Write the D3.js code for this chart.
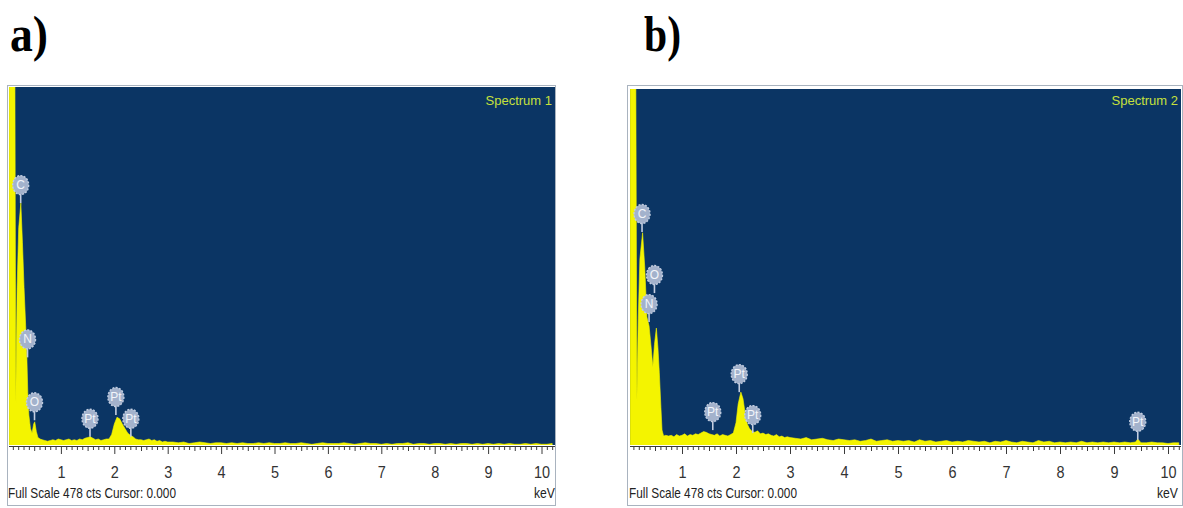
<!DOCTYPE html>
<html><head><meta charset="utf-8">
<script src="https://cdn.jsdelivr.net/npm/d3@7"></script>
<style>body{margin:0;background:#fff;} svg{display:block;}</style>
</head><body>
<svg id="c" width="1183" height="508"></svg>
<script>
// ---------- DATA ----------
const fullScale = 478;
const tickLabels = [1,2,3,4,5,6,7,8,9,10];

const energyA = [0.03,0.135,0.155,0.18,0.21,0.25,0.28,0.31,0.34,0.36,0.38,0.40,0.43,0.46,0.49,0.51,0.54,0.57,0.61,
 0.65,0.70,0.75,0.80,0.85,0.90,0.95,1.00,1.05,1.10,1.15,1.20,1.25,1.30,1.35,1.40,1.45,1.50,1.55,1.60,1.65,1.70,1.75,1.80,1.85,
 1.90,1.95,2.00,2.05,2.10,2.15,2.20,2.25,2.30,2.35,2.40,2.45,
 2.50,2.55,2.60,2.65,2.70,2.75,2.80,2.85,2.90,2.95,3.00,
 3.1,3.2,3.3,3.4,3.5,3.6,3.7,3.8,3.9,4.0,4.1,4.2,4.3,4.4,4.5,4.6,4.7,4.8,4.9,5.0,
 5.1,5.2,5.3,5.4,5.5,5.6,5.7,5.8,5.9,6.0,6.1,6.2,6.3,6.4,6.5,6.6,6.7,6.8,6.9,7.0,
 7.1,7.2,7.3,7.4,7.5,7.6,7.7,7.8,7.9,8.0,8.1,8.2,8.3,8.4,8.5,8.6,8.7,8.8,8.9,9.0,
 9.1,9.2,9.3,9.4,9.5,9.6,9.7,9.8,9.9,10.0,10.1,10.2];
const countsA = [600,600,56,210,290,323,270,210,160,125,70,40,22,16,28,31,18,10,8,
 7,6,5,6,7,6,8,7,6,7,8,6,7,6,8,7,9,10,11,9,7,8,6,7,8,
 8,14,28,37,35,28,22,16,13,11,8,7,
 7,6,7,8,6,7,5,6,4,5,4,
 4,3,4,2,3,4,3,2,3,3, 2,3,2,3,2,2,3,2,3,2,
 2,3,2,2,3,2,1,2,3,2, 2,2,3,2,1,2,3,2,2,1,
 2,1,2,2,3,1,2,2,1,2, 2,1,2,1,2,2,1,2,1,2,
 1,2,1,2,1,1,2,1,2,1,1,2];

const energyB = [0.04,0.14,0.165,0.19,0.22,0.27,0.31,0.35,0.39,0.43,0.46,0.49,0.525,0.555,0.58,0.61,0.63,0.66,0.70,
 0.75,0.80,0.85,0.90,0.95,1.00,1.05,1.10,1.15,1.20,1.25,1.30,1.35,1.40,1.45,1.50,1.55,1.60,1.65,1.70,1.75,1.80,1.85,1.90,
 1.95,2.00,2.04,2.09,2.13,2.17,2.21,2.25,2.30,2.35,2.40,2.45,2.50,
 2.55,2.60,2.65,2.70,2.75,2.80,2.85,2.90,2.95,3.00,
 3.1,3.2,3.3,3.4,3.5,3.6,3.7,3.8,3.9,4.0,4.1,4.2,4.3,4.4,4.5,4.6,4.7,4.8,4.9,5.0,
 5.1,5.2,5.3,5.4,5.5,5.6,5.7,5.8,5.9,6.0,6.1,6.2,6.3,6.4,6.5,6.6,6.7,6.8,6.9,7.0,
 7.1,7.2,7.3,7.4,7.5,7.6,7.7,7.8,7.9,8.0,8.1,8.2,8.3,8.4,8.5,8.6,8.7,8.8,8.9,9.0,
 9.1,9.2,9.3,9.4,9.44,9.5,9.6,9.7,9.8,9.9,10.0,10.1,10.2];
const countsB = [600,600,60,170,250,285,239,172,160,130,105,135,157,130,97,50,20,12,13,
 12,13,11,14,12,13,15,12,14,13,15,14,16,18,17,15,14,13,15,12,14,13,12,14,
 16,30,55,71,62,42,28,22,18,17,19,15,16,
 14,15,13,12,14,11,12,10,11,10,
 9,8,10,7,8,9,7,6,8,7, 6,7,5,6,8,5,6,7,5,6,
 5,6,4,7,5,6,4,5,6,4, 5,4,6,5,4,5,3,5,4,6,
 4,3,5,4,3,6,4,5,3,4, 3,4,3,5,3,4,3,4,3,4,
 3,4,3,4,8,3,3,4,3,3,2,3,3];

const labelTextA   = ["C","N","O","Pt","Pt","Pt"];
const labelEnergyA = [0.247,0.375,0.506,1.545,2.03,2.31];
const labelCountsA = [323,117,33,11,40,11];

const labelTextB   = ["C","N","O","Pt","Pt","Pt","Pt"];
const labelEnergyB = [0.26,0.39,0.49,1.57,2.06,2.31,9.44];
const labelCountsB = [286,165,204,20,71,16,7];

// ---------- LAYOUT ----------
const svg = d3.select('#c');
const narrow = "'Liberation Sans Narrow','Arial Narrow','Liberation Sans',sans-serif";
const panels = [
  {title:'a)', titleX:10, titleW:38, spec:'Spectrum 1', E:energyA, C:countsA,
   lt:labelTextA, le:labelEnergyA, lc:labelCountsA, kevR:555,
   box:[7.5,85.5,548,420], plotL:9, plotR:555, plotT:87, zeroX:7.5, tenX:541.5},
  {title:'b)', titleX:644, titleW:37, spec:'Spectrum 2', E:energyB, C:countsB,
   lt:labelTextB, le:labelEnergyB, lc:labelCountsB, kevR:1178,
   box:[627.5,85.5,555,420], plotL:630, plotR:1181, plotT:89, zeroX:628, tenX:1168}
];
const plotB = 445, axisY = 446;

panels.forEach((p,i) => {
  const g = svg.append('g');
  // title
  g.append('text').attr('x', p.titleX).attr('y', 51)
    .attr('font-family', "'Liberation Serif','Times New Roman',serif")
    .attr('font-weight','bold').attr('font-size',50)
    .attr('textLength', p.titleW).attr('lengthAdjust','spacingAndGlyphs')
    .attr('fill','#000').text(p.title);

  // frame
  g.append('rect').attr('x',p.box[0]).attr('y',p.box[1]).attr('width',p.box[2]).attr('height',p.box[3])
    .attr('fill','#fff').attr('stroke','#a9b3bf').attr('stroke-width',1);
  g.append('rect').attr('x',p.plotL).attr('y',p.plotT).attr('width',p.plotR-p.plotL).attr('height',plotB-p.plotT)
    .attr('fill','#0b3564');

  const x = d3.scaleLinear().domain([0,10]).range([p.zeroX, p.tenX]);
  const y = d3.scaleLinear().domain([0,fullScale]).range([plotB, p.plotT]);

  const cid = 'clip'+i;
  svg.append('clipPath').attr('id',cid).append('rect')
    .attr('x',p.plotL).attr('y',p.plotT).attr('width',p.plotR-p.plotL).attr('height',plotB-p.plotT);

  const data = p.E.map((e,k)=>[e,p.C[k]]);
  const area = d3.area().x(d=>x(d[0])).y0(y(0)).y1(d=>y(d[1]));
  g.append('path').datum(data).attr('clip-path',`url(#${cid})`)
    .attr('d',area).attr('fill','#f4f400').attr('stroke','#f4f400').attr('stroke-width',0.6);

  // spectrum name
  g.append('text').attr('x',p.plotR-3).attr('y',105).attr('text-anchor','end')
    .attr('font-family',narrow).attr('font-size',13).attr('fill','#c6e03c').text(p.spec);

  // axis
  const maxE = x.invert(p.plotR);
  const minor = d3.range(1, 103).map(k=>k/10)
    .filter(v=>v<=maxE && Math.abs(v*2-Math.round(v*2))>1e-6);
  const half = d3.range(0, 10).map(k=>k+0.5);
  const ax = g.append('g').attr('transform',`translate(0,${axisY})`);
  ax.append('g').call(d3.axisBottom(x).tickValues(minor).tickSize(4).tickFormat(''));
  ax.append('g').call(d3.axisBottom(x).tickValues(half).tickSize(5).tickFormat(''));
  ax.append('g').call(d3.axisBottom(x).tickValues(tickLabels).tickSize(8).tickPadding(12).tickFormat(d3.format('d')));
  ax.selectAll('.domain').remove();
  ax.selectAll('line').attr('stroke','#3a3a3a');
  ax.selectAll('.tick text').attr('font-family',narrow).attr('font-size',17).attr('fill','#333')
    .attr('transform','scale(0.85,1)');
  g.append('line').attr('x1',p.plotL).attr('x2',p.plotR).attr('y1',axisY+0.5).attr('y2',axisY+0.5)
    .attr('stroke','#3a3a3a').attr('stroke-width',1);

  g.append('text').attr('x',p.plotL-1).attr('y',498).attr('font-family',narrow).attr('font-size',15)
    .attr('textLength',168).attr('lengthAdjust','spacingAndGlyphs').attr('fill','#222')
    .text('Full Scale 478 cts Cursor: 0.000');
  g.append('text').attr('x',p.kevR).attr('y',498).attr('text-anchor','end').attr('font-family',narrow)
    .attr('font-size',15).attr('textLength',21).attr('lengthAdjust','spacingAndGlyphs')
    .attr('fill','#222').text('keV');

  // peak labels
  p.lt.forEach((t,k)=>{
    const lx = x(p.le[k]), ly = y(p.lc[k]);
    const lg = g.append('g').attr('transform',`translate(${lx},${ly})`);
    lg.append('line').attr('x1',0).attr('x2',0).attr('y1',0).attr('y2',-10)
      .attr('stroke','#c3cde0').attr('stroke-width',1.6);
    lg.append('ellipse').attr('cx',0).attr('cy',-18).attr('rx',8).attr('ry',9.5)
      .attr('fill','#a3b2cc').attr('stroke','#c2cde0').attr('stroke-width',1.4)
      .attr('stroke-dasharray','2,1.4');
    lg.append('text').attr('x',0).attr('y',-14).attr('text-anchor','middle')
      .attr('font-family',narrow).attr('font-size',12).attr('fill','#f2f5fa').text(t);
  });
});
</script>
</body></html>
